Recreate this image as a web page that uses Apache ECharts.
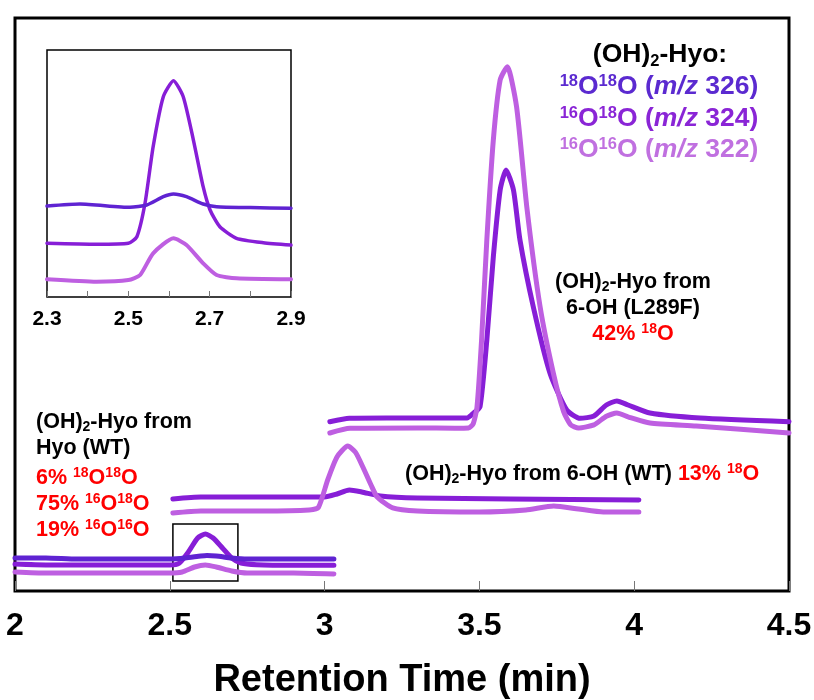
<!DOCTYPE html>
<html>
<head>
<meta charset="utf-8">
<title>(OH)2-Hyo chromatograms</title>
<script src="https://cdn.jsdelivr.net/npm/echarts@6/dist/echarts.min.js"></script>
<style>
  html, body { margin: 0; padding: 0; background: #fff; }
  #chart { width: 814px; height: 700px; }
</style>
</head>
<body>
<div id="chart"></div>
<script>
// trace data: [retention time (min), relative intensity (offset, arbitrary)]
// group 1: (OH)2-Hyo from Hyo (WT)
var hyo18O18O = [[2.0, 5.76], [2.1, 5.76], [2.2, 5.58], [2.3, 5.58], [2.4, 5.58], [2.5, 5.58], [2.55, 5.76], [2.6, 6.11], [2.62, 6.2], [2.65, 6.11], [2.7, 5.76], [2.75, 5.58], [2.85, 5.58], [2.95, 5.58], [3.03, 5.58]];
var hyo16O18O = [[2.0, 4.7], [2.1, 4.55], [2.3, 4.55], [2.45, 4.55], [2.5, 4.55], [2.53, 4.85], [2.56, 6.81], [2.59, 9.25], [2.615, 9.95], [2.64, 9.25], [2.67, 7.5], [2.7, 5.76], [2.73, 4.89], [2.78, 4.6], [2.9, 4.5], [3.03, 4.5]];
var hyo16O16O = [[2.0, 3.32], [2.1, 3.14], [2.3, 3.14], [2.5, 3.14], [2.54, 3.32], [2.58, 4.19], [2.615, 4.54], [2.65, 4.19], [2.7, 3.49], [2.75, 3.14], [2.9, 3.14], [3.03, 2.97]];

// group 2: (OH)2-Hyo from 6-OH (WT)
var wt16O18O = [[2.51, 16.06], [2.6, 16.4], [2.8, 16.4], [3.0, 16.4], [3.04, 16.93], [3.08, 17.63], [3.12, 17.28], [3.18, 16.58], [3.3, 16.23], [3.6, 16.06], [4.015, 15.88]];
var wt16O16O = [[2.51, 13.61], [2.6, 13.96], [2.8, 13.96], [2.95, 14.14], [2.98, 14.6], [3.01, 19.4], [3.04, 23.4], [3.075, 25.3], [3.1, 24.2], [3.124, 21.6], [3.15, 18.5], [3.17, 16.4], [3.22, 14.5], [3.3, 13.96], [3.5, 13.79], [3.65, 14.14], [3.74, 14.83], [3.82, 14.31], [3.9, 13.79], [4.015, 13.79]];

// group 3: (OH)2-Hyo from 6-OH (L289F)
var l289f16O18O = [[3.017, 29.55], [3.08, 30.14], [3.2, 30.19], [3.35, 30.19], [3.46, 30.19], [3.48, 31.0], [3.502, 32.16], [3.524, 43.8], [3.545, 58.34], [3.567, 69.98], [3.586, 73.47], [3.61, 69.98], [3.631, 61.26], [3.674, 49.62], [3.728, 37.99], [3.782, 31.59], [3.825, 30.14], [3.87, 30.54], [3.91, 32.46], [3.944, 33.16], [3.98, 32.46], [4.051, 31.06], [4.213, 30.19], [4.5, 29.55]];
var l289f16O16O = [[3.017, 27.57], [3.082, 28.39], [3.3, 28.45], [3.42, 28.42], [3.465, 28.45], [3.48, 29.2], [3.492, 32.0], [3.507, 43.8], [3.524, 61.26], [3.545, 78.71], [3.567, 89.18], [3.59, 91.5], [3.62, 84.52], [3.653, 67.07], [3.696, 49.62], [3.739, 37.99], [3.772, 31.3], [3.795, 29.0], [3.82, 28.45], [3.87, 29.0], [3.91, 30.5], [3.944, 31.06], [3.98, 30.4], [4.051, 29.32], [4.2, 28.8], [4.5, 27.57]];

// inset: zoom of group 1 peak (2.3 - 2.9 min)
var inset18O18O = [[2.3, 36.84], [2.381, 37.65], [2.504, 36.32], [2.545, 37.25], [2.586, 40.61], [2.611, 41.7], [2.643, 40.61], [2.684, 37.65], [2.717, 36.56], [2.8, 36.2], [2.9, 35.91]];
var inset16O18O = [[2.3, 21.74], [2.422, 21.34], [2.5, 21.74], [2.521, 24.41], [2.541, 37.93], [2.561, 60.85], [2.586, 81.09], [2.611, 87.57], [2.635, 81.09], [2.66, 63.56], [2.684, 44.66], [2.701, 35.22], [2.725, 28.46], [2.766, 23.76], [2.832, 21.98], [2.9, 21.05]];
var inset16O16O = [[2.3, 7.17], [2.422, 6.19], [2.5, 6.88], [2.529, 8.91], [2.561, 17.69], [2.611, 23.76], [2.643, 21.05], [2.684, 13.64], [2.717, 8.91], [2.766, 7.57], [2.9, 7.17]];

// box on the main plot marking the zoomed region [t0, t1, y0, y1]
var zoomBox = [2.51, 2.72, 1.75, 11.7];
var insetTickLabels = ['2.3', '2.5', '2.7', '2.9'];

var C18 = '#5f23d2', C1618 = '#871ed7', C16 = '#be5fe1';
var FF = '"Liberation Sans", Arial, sans-serif';

function f(size, extra) {
    return (extra ? extra + ' ' : '') + 'bold ' + size + 'px ' + FF;
}

function trace(data, color, width, xi) {
    return {
        type: 'line',
        data: data,
        xAxisIndex: xi,
        yAxisIndex: xi,
        showSymbol: false,
        smooth: 0.2,
        silent: true,
        lineStyle: { color: color, width: width, cap: 'round', join: 'round' }
    };
}

// rich text styles for the notes
var rich21 = {
    sub: { font: f(14), padding: [11, 0, 0, 0] },
    r: { font: f(21.5), fill: '#f00' },
    rs: { font: f(14), fill: '#f00', padding: [0, 0, 10, 0] }
};

function legendRow(text, color, y) {
    return {
        type: 'text', x: 659, y: y, z: 100,
        style: {
            text: text, font: f(26.5), fill: color, align: 'center', verticalAlign: 'middle',
            rich: {
                sup: { font: f(16.5), fill: color, padding: [0, 0, 11, 0] },
                it: { font: f(26.5, 'italic'), fill: color }
            }
        }
    };
}

function note(text, x, y, align) {
    return {
        type: 'text', x: x, y: y, z: 100,
        style: { text: text, font: f(21.5), fill: '#000', align: align, verticalAlign: 'middle', rich: rich21 }
    };
}

var chart = echarts.init(document.getElementById('chart'));

var option = {
    animation: false,
    backgroundColor: '#fff',
    grid: [
        { left: 15, right: 25, top: 18, bottom: 109, show: true, borderColor: '#000', borderWidth: 3, outerBoundsMode: 'none' },
        { left: 47, width: 244, top: 50, height: 247, show: true, borderColor: '#000', borderWidth: 1.5, outerBoundsMode: 'none' }
    ],
    xAxis: [
        {
            type: 'value', gridIndex: 0, min: 2, max: 4.5, interval: 0.5,
            axisLine: { show: false },
            axisTick: { show: true, inside: true, length: 10, lineStyle: { color: '#777', width: 1 } },
            splitLine: { show: false },
            axisLabel: { fontFamily: FF, fontWeight: 'bold', fontSize: 32, color: '#000', margin: 19, showMinLabel: true, showMaxLabel: true },
            name: 'Retention Time (min)', nameLocation: 'middle', nameGap: 71,
            nameTextStyle: { fontFamily: FF, fontWeight: 'bold', fontSize: 38, color: '#000' }
        },
        {
            type: 'value', gridIndex: 1, min: 2.3, max: 2.9, interval: 0.1,
            axisLine: { show: false },
            axisTick: { show: true, inside: true, length: 6, lineStyle: { color: '#777', width: 1 } },
            splitLine: { show: false },
            axisLabel: {
                fontFamily: FF, fontWeight: 'bold', fontSize: 21, color: '#000', margin: 12,
                showMinLabel: true, showMaxLabel: true,
                formatter: function (v) {
                    var s = v.toFixed(1);
                    return insetTickLabels.indexOf(s) >= 0 ? s : '';
                }
            }
        }
    ],
    yAxis: [
        { type: 'value', gridIndex: 0, min: 0, max: 100, show: false },
        { type: 'value', gridIndex: 1, min: 0, max: 100, show: false }
    ],
    series: [
        trace(hyo16O16O, C16, 5, 0),
        trace(hyo16O18O, C1618, 5, 0),
        trace(hyo18O18O, C18, 5, 0),
        trace(wt16O18O, C1618, 5, 0),
        trace(wt16O16O, C16, 5, 0),
        trace(l289f16O18O, C1618, 5, 0),
        trace(l289f16O16O, C16, 5, 0),
        trace(inset16O16O, C16, 4, 1),
        trace(inset16O18O, C1618, 3.5, 1),
        trace(inset18O18O, C18, 3.5, 1),
        {
            type: 'line', data: [], xAxisIndex: 0, yAxisIndex: 0, silent: true,
            markArea: {
                silent: true,
                itemStyle: { color: 'rgba(0,0,0,0)', borderColor: '#000', borderWidth: 1.5 },
                data: [[{ coord: [zoomBox[0], zoomBox[3]] }, { coord: [zoomBox[1], zoomBox[2]] }]]
            }
        }
    ],
    graphic: [
        {
            type: 'text', x: 660, y: 55, z: 100,
            style: {
                text: '(OH){s|2}-Hyo:', font: f(26.5), fill: '#000', align: 'center', verticalAlign: 'middle',
                rich: { s: { font: f(16.5), padding: [12, 0, 0, 0] } }
            }
        },
        legendRow('{sup|18}O{sup|18}O ({it|m/z} 326)', '#5b2ad0', 87),
        legendRow('{sup|16}O{sup|18}O ({it|m/z} 324)', '#8a25d6', 119),
        legendRow('{sup|16}O{sup|16}O ({it|m/z} 322)', '#c070e0', 150),

        note('(OH){sub|2}-Hyo from', 633, 282, 'center'),
        note('6-OH (L289F)', 633, 308, 'center'),
        note('{r|42%} {rs|18}{r|O}', 633, 334, 'center'),

        note('(OH){sub|2}-Hyo from 6-OH (WT) {r|13%} {rs|18}{r|O}', 405, 474, 'left'),

        note('(OH){sub|2}-Hyo from', 36, 422, 'left'),
        note('Hyo (WT)', 36, 448, 'left'),
        note('{r|6%} {rs|18}{r|O}{rs|18}{r|O}', 36, 478, 'left'),
        note('{r|75%} {rs|16}{r|O}{rs|18}{r|O}', 36, 504, 'left'),
        note('{r|19%} {rs|16}{r|O}{rs|16}{r|O}', 36, 530, 'left')
    ]
};

chart.setOption(option);
</script>
</body>
</html>
